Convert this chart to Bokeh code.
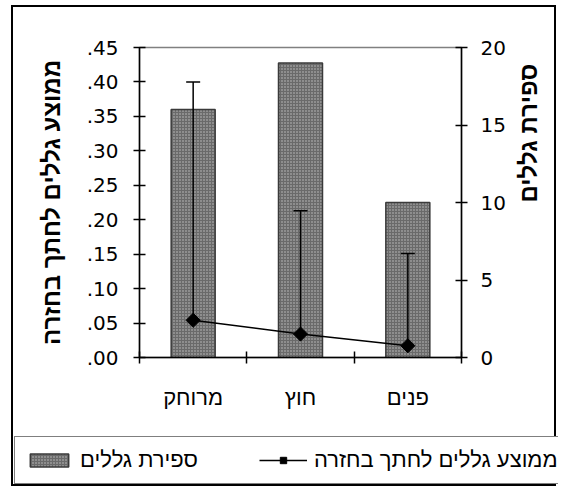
import math
from bokeh.plotting import figure
from bokeh.models import (Range1d, LinearAxis, FixedTicker, Whisker, TeeHead,
                          ColumnDataSource, Legend, LegendItem)
from bokeh.embed import file_html
from bokeh.resources import INLINE

# ---- data ----
categories = ["מרוחק", "חוץ", "פנים"]
counts = [16, 19, 10]                      # ספירת גללים (right axis)
means = [0.054, 0.034, 0.017]              # ממוצע גללים לחתך בחזרה (left axis)
upper_err = [0.346, 0.179, 0.134]          # upward error bar length
left_ticks = [0.0, 0.05, 0.10, 0.15, 0.20, 0.25, 0.30, 0.35, 0.40, 0.45]
right_ticks = [0, 5, 10, 15, 20]
left_title = "ממוצע גללים לחתך בחזרה"
right_title = "ספירת גללים"

FONT = "Liberation Sans"
NUM_FONT = "DejaVu Sans"
BAR_STYLE = dict(fill_color="#6a6a6a", line_color="#3a3a3a", line_width=1.5,
                 hatch_pattern="dot", hatch_color="white", hatch_scale=3,
                 hatch_weight=1.2, hatch_alpha=0.6)
LINE_STYLE = dict(line_color="black", line_width=1.5)
MK_STYLE = dict(marker="square", angle=math.pi / 4, size=10,
                fill_color="black", line_color="black")

xpos = [i + 0.5 for i in range(len(categories))]
bounds = list(range(len(categories) + 1))
upper = [m + e for m, e in zip(means, upper_err)]

src = ColumnDataSource(dict(x=xpos, counts=counts, means=means, upper=upper))

W = 545
p = figure(width=W, height=425, x_range=Range1d(0, len(categories)),
           y_range=Range1d(0, 0.45), output_backend="svg", toolbar_location=None,
           min_border_left=126, min_border_right=97, min_border_top=40,
           min_border_bottom=75)
p.extra_y_ranges = {"count": Range1d(0, 20)}
p.styles = {"border": "2px solid black", "border-bottom": "none",
            "margin-left": "11px", "margin-top": "5px", "vertical-align": "top"}
p.xgrid.visible = False
p.ygrid.visible = False
p.outline_line_color = "#808080"
p.outline_line_width = 1.5
p.background_fill_color = "white"
p.border_fill_color = "white"

bars = p.vbar(x="x", top="counts", width=0.41, source=src, y_range_name="count",
              **BAR_STYLE)

wh = Whisker(base="x", upper="upper", lower="means", source=src,
             line_color="black", line_width=1.5,
             upper_head=TeeHead(size=14, line_color="black", line_width=1.5),
             lower_head=None, level="annotation")
p.add_layout(wh)

ln = p.line(x="x", y="means", source=src, **LINE_STYLE)
mk = p.scatter(x="x", y="means", source=src, **MK_STYLE)

# x axis: category labels at centers, tick marks at boundaries
xa = p.xaxis[0]
xa.ticker = FixedTicker(ticks=xpos, minor_ticks=bounds)
xa.major_label_overrides = {x: c for x, c in zip(xpos, categories)}
xa.major_tick_in = 0
xa.major_tick_out = 0
xa.minor_tick_in = 6
xa.minor_tick_out = 6
xa.minor_tick_line_color = "black"
xa.minor_tick_line_width = 1.5
xa.major_label_standoff = 21
xa.major_label_text_font = FONT
xa.major_label_text_font_size = "22px"
xa.major_label_text_color = "black"
xa.axis_line_width = 1.5
xa.axis_line_color = "black"

# left axis
ya = p.yaxis[0]
ya.ticker = FixedTicker(ticks=left_ticks)
ya.major_label_overrides = {t: f"{t:.2f}"[1:] for t in left_ticks}
ya.axis_label = left_title

# right axis (ticks and numbers)
ra = LinearAxis(y_range_name="count", ticker=FixedTicker(ticks=right_ticks))
p.add_layout(ra, "right")

for ax in (ya, ra):
    ax.major_tick_in = 6
    ax.major_tick_out = 6
    ax.minor_tick_line_color = None
    ax.major_tick_line_width = 1.5
    ax.axis_line_width = 1.5
    ax.axis_line_color = "black"
    ax.major_tick_line_color = "black"
    ax.major_label_text_font = NUM_FONT
    ax.major_label_text_font_size = "20px"
    ax.major_label_text_color = "black"
ya.major_label_standoff = 15
ra.major_label_standoff = 13

# right axis title (carried by a bare axis so it reads bottom-to-top)
rt = LinearAxis(y_range_name="count", ticker=FixedTicker(ticks=[]),
                axis_label=right_title, bounds=(0, 11.2))
rt.axis_line_color = None
rt.major_tick_line_color = None
rt.minor_tick_line_color = None
rt.major_tick_in = 0
rt.major_tick_out = 0
rt.minor_tick_in = 0
rt.minor_tick_out = 0
rt.major_label_standoff = 0
rt.major_label_text_font_size = "0px"
p.add_layout(rt, "right")

for ax in (ya, rt):
    ax.axis_label_text_font = FONT
    ax.axis_label_text_font_size = "24px"
    ax.axis_label_text_font_style = "bold"
    ax.axis_label_text_color = "black"
ya.axis_label_standoff = 19
rt.axis_label_standoff = 20
try:
    rt.axis_label_orientation = math.pi / 2
except Exception:
    pass

# ---- legend strip: a second figure directly below, sharing the same data ----
lg = figure(width=W, height=56, x_range=Range1d(-20, -19), y_range=Range1d(-20, -19),
            output_backend="svg", toolbar_location=None, x_axis_type=None,
            y_axis_type=None, min_border=0)
lg.styles = {"border": "2px solid black", "border-top": "none",
             "margin-left": "11px", "vertical-align": "top"}
lg.xgrid.visible = False
lg.ygrid.visible = False
lg.outline_line_color = None
lg.background_fill_color = "white"
lg.border_fill_color = "white"
lb = lg.vbar(x="x", top="counts", width=0.41, source=src, **BAR_STYLE)
ll = lg.line(x="x", y="means", source=src, **LINE_STYLE)
lm = lg.scatter(x="x", y="means", source=src, **MK_STYLE)

legend = Legend(items=[LegendItem(label=right_title, renderers=[lb]),
                       LegendItem(label=left_title, renderers=[ll, lm])],
                orientation="horizontal", location=(1, 2),
                label_text_font=FONT, label_text_font_size="22px",
                label_text_color="black", glyph_width=48, glyph_height=16,
                label_height=26, label_standoff=7, spacing=61, padding=10,
                margin=0, border_line_color="black", border_line_width=1.5,
                background_fill_color="white", background_fill_alpha=1.0)
lg.add_layout(legend, "center")

open("out.html", "w").write(file_html([p, lg], INLINE))
